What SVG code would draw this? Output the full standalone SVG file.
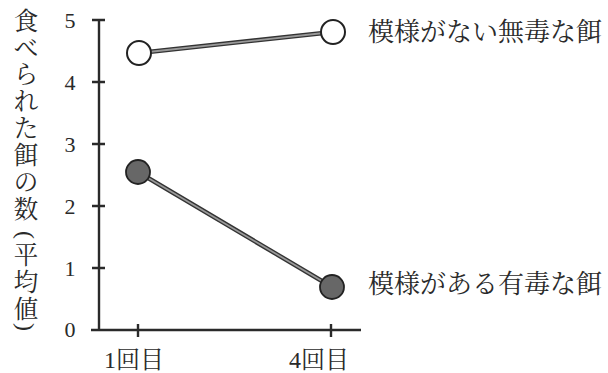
<svg xmlns="http://www.w3.org/2000/svg" width="608" height="373" viewBox="0 0 608 373">
<style>
.ax{stroke:#2a2a2a;stroke-width:2.4;fill:none}
.num{font-family:"Liberation Serif",serif;font-size:22px;fill:#2a2a2a;text-anchor:middle}
.jp{font-family:"Liberation Serif","Noto Serif CJK JP","Noto Sans CJK JP",serif;font-size:26px;fill:#2a2a2a}
.xl{font-size:24px}
.yl{font-family:"Liberation Serif","Noto Serif CJK JP","Noto Sans CJK JP",serif;font-size:24.5px;fill:#2a2a2a;text-anchor:middle;dominant-baseline:central}
.pr{font-size:24px}
.lo{stroke:#333;stroke-width:4.5;fill:none}
.li{stroke:#999;stroke-width:1.8;fill:none}
.open{fill:#fff;stroke:#222;stroke-width:2}
.fill{fill:#676767;stroke:#222;stroke-width:1.8}
</style>
<rect width="608" height="373" fill="#fff"/>
<g id="axes">
<path class="ax" d="M99 20V330M91 330H361M92 20H105M92 82H105M92 144H105M92 206H105M92 268H105M138 324V337M331 324V337"/>
</g>
<g id="y-ticks">
<text class="num" x="70" y="28">5</text>
<text class="num" x="70" y="90">4</text>
<text class="num" x="70" y="152">3</text>
<text class="num" x="70" y="214">2</text>
<text class="num" x="70" y="276">1</text>
<text class="num" x="70" y="337">0</text>
</g>
<g id="y-label">
<text class="yl" x="26" y="21">食</text>
<text class="yl" x="26" y="48">べ</text>
<text class="yl" x="26" y="74.5">ら</text>
<text class="yl" x="26" y="101.5">れ</text>
<text class="yl" x="26" y="128">た</text>
<text class="yl" x="26" y="155">餌</text>
<text class="yl" x="26" y="182">の</text>
<text class="yl" x="26" y="209">数</text>
<text class="yl pr" x="26" y="235" transform="rotate(90 26 235)">(</text>
<text class="yl" x="26" y="255">平</text>
<text class="yl" x="26" y="282">均</text>
<text class="yl" x="26" y="309">値</text>
<text class="yl pr" x="26" y="327" transform="rotate(90 26 327)">)</text>
</g>
<g id="x-labels">
<text class="jp xl" x="104" y="368">1回目</text>
<text class="jp xl" x="289" y="368">4回目</text>
</g>
<g id="connectors">
<path class="lo" d="M139 53L333 32"/>
<path class="li" d="M139 53L333 32"/>
<path class="lo" d="M138 172L332 287"/>
<path class="li" d="M138 172L332 287"/>
</g>
<g id="nontoxic">
<circle class="open" cx="139" cy="53" r="12"/>
<circle class="open" cx="333" cy="32" r="12"/>
<text class="jp" x="368" y="41">模様がない無毒な餌</text>
</g>
<g id="toxic">
<circle class="fill" cx="138" cy="172" r="12"/>
<circle class="fill" cx="332" cy="287" r="12"/>
<text class="jp" x="368" y="293">模様がある有毒な餌</text>
</g>
</svg>
